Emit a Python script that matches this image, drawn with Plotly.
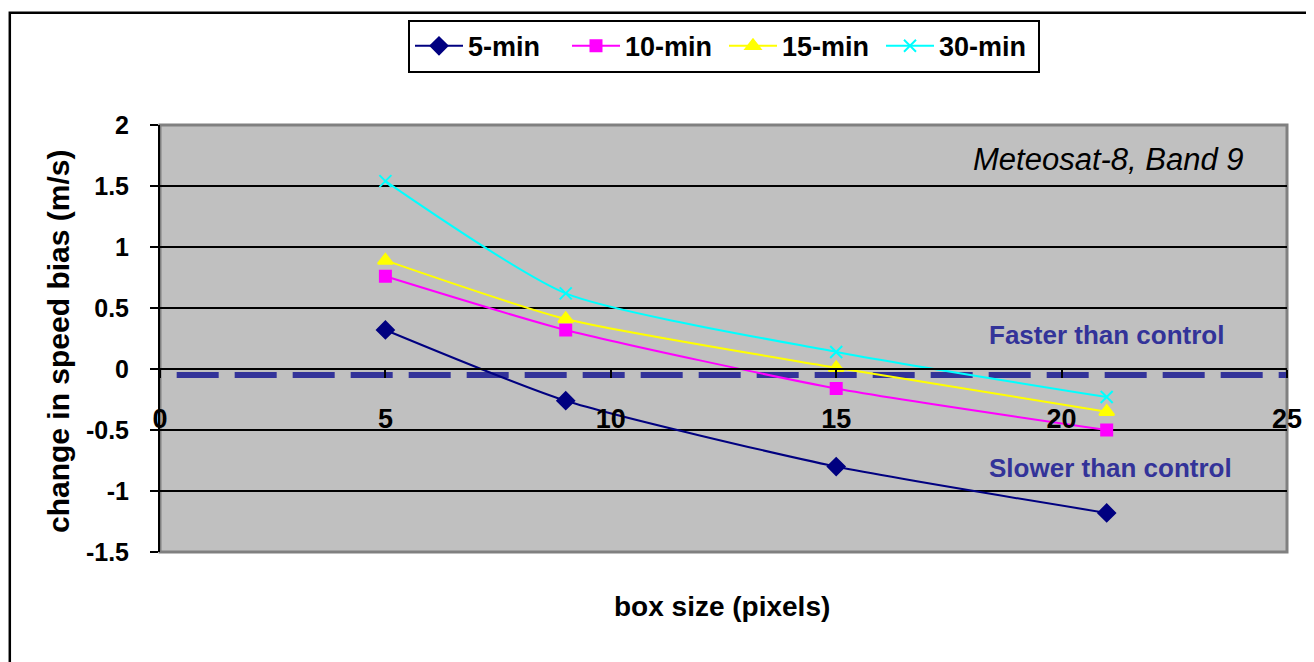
import plotly.graph_objects as go

# ---- data ----
box_size = [5, 9, 15, 21]
series_names = ["5-min", "10-min", "15-min", "30-min"]
bias_5min = [0.32, -0.26, -0.80, -1.18]
bias_10min = [0.76, 0.32, -0.16, -0.50]
bias_15min = [0.89, 0.41, 0.01, -0.35]
bias_30min = [1.54, 0.62, 0.14, -0.23]
control_x = [0.37, 25]
control_y = [-0.05, -0.05]
y_ticks = [2, 1.5, 1, 0.5, 0, -0.5, -1, -1.5]
x_ticks = [0, 5, 10, 15, 20, 25]

colors = ["#000080", "#FF00FF", "#FFFF00", "#00FFFF"]
symbols = ["diamond", "square", "triangle-up", "x-thin"]
sizes = [13, 11, 13, 12]
values = [bias_5min, bias_10min, bias_15min, bias_30min]

FONT = "Arial, 'Liberation Sans', sans-serif"

# page body has an 8px default margin -> compensate
OFF = 8
W, H = 1314 - OFF, 662 - OFF
PL, PR, PT, PB = 160, 1293, 122, 552  # plot area in page pixels
PW, PH = PR - PL, PB - PT

def px(x):
    return (x - PL) / PW

def py(y):
    return (PB - y) / PH

fig = go.Figure()

fig.add_trace(go.Scatter(
    x=control_x, y=control_y, mode="lines",
    line=dict(color="#333399", width=6, dash="42px,16px"),
    showlegend=False, hoverinfo="skip"))

for name, vals, c, s, sz in zip(series_names, values, colors, symbols, sizes):
    fig.add_trace(go.Scatter(
        x=box_size, y=vals, name=name, mode="lines+markers",
        line=dict(color=c, width=2, shape="spline", smoothing=0.6),
        marker=dict(symbol=s, size=sz, color=c, line=dict(color=c, width=2)),
    ))

fig.update_layout(
    width=W, height=H,
    margin=dict(l=PL - OFF, r=W - (PR - OFF), t=PT - OFF, b=H - (PB - OFF)),
    paper_bgcolor="white",
    plot_bgcolor="#C0C0C0",
    font=dict(family=FONT, color="black"),
    legend=dict(
        orientation="h", x=px(727), xanchor="center", y=py(16), yanchor="top",
        bgcolor="white", bordercolor="black", borderwidth=2,
        font=dict(size=27, family=FONT, weight="bold"),
        itemwidth=48, entrywidth=94,
    ),
    xaxis=dict(
        range=[0, 25], tickvals=x_ticks, showgrid=False, zeroline=False,
        anchor="free", position=1.5 / 3.5,
        showline=True, linecolor="black", linewidth=2,
        ticks="outside", ticklen=8, tickwidth=1.5, tickcolor="black",
        tickfont=dict(size=27, family=FONT, weight="bold"),
        ticklabelstandoff=18,
    ),
    yaxis=dict(
        range=[-1.5, 2], tickvals=y_ticks, ticktext=[str(v) for v in y_ticks],
        showgrid=True, gridcolor="black", gridwidth=2,
        zeroline=False,
        showline=True, linecolor="black", linewidth=2,
        ticks="outside", ticklen=8, tickwidth=2, tickcolor="black",
        tickfont=dict(size=25, family=FONT, weight="bold"),
        ticklabelstandoff=16,
    ),
    shapes=[
        dict(type="rect", xref="paper", yref="paper", x0=0, y0=0, x1=1, y1=1,
             line=dict(color="#808080", width=3), layer="below"),
        dict(type="rect", xref="paper", yref="paper",
             x0=px(9), x1=px(1340),
             y0=py(690), y1=py(9),
             line=dict(color="black", width=2.5), layer="below"),
    ],
    annotations=[
        dict(text="box size (pixels)", xref="paper", yref="paper",
             x=px(725), y=py(607), showarrow=False,
             font=dict(size=28, family=FONT, weight="bold"),
             xanchor="center", yanchor="middle"),
        dict(text="change in speed bias (m/s)", xref="paper", yref="paper",
             x=px(58), y=py(340), showarrow=False,
             textangle=-90,
             font=dict(size=30, family=FONT, weight="bold"),
             xanchor="center", yanchor="middle"),
        dict(text="<i>Meteosat-8, Band 9</i>", xref="paper", yref="paper",
             x=px(1252), y=py(157), showarrow=False,
             font=dict(size=31, family=FONT),
             xanchor="right", yanchor="middle"),
        dict(text="Faster than control", xref="paper", yref="paper",
             x=px(1112), y=py(333), showarrow=False,
             font=dict(size=26, family=FONT, weight="bold", color="#333399"),
             xanchor="center", yanchor="middle"),
        dict(text="Slower than control", xref="paper", yref="paper",
             x=px(1116), y=py(467), showarrow=False,
             font=dict(size=26, family=FONT, weight="bold", color="#333399"),
             xanchor="center", yanchor="middle"),
    ],
)

fig.write_html("out.html")
